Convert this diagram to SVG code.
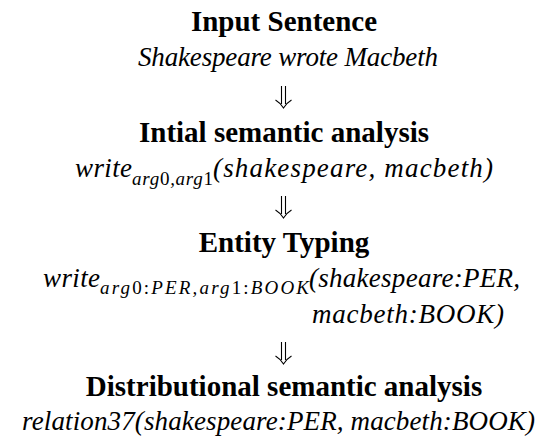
<svg xmlns="http://www.w3.org/2000/svg" width="560" height="436" viewBox="0 0 560 436" font-family="Liberation Serif, serif">
<style>
text{fill:#000}
.t{font-weight:bold;font-size:29px;text-anchor:middle}
.i{font-style:italic;font-size:27px}
.s{font-style:italic;font-size:19px}
.r{font-style:normal}
.arr{fill:none;stroke:#000;stroke-width:1.1}
</style>
<defs>
<path id="dn" d="M-2,0 V18 M2,0 V18 M-8,14 Q-3,17 0,22 Q3,17 8,14"/>
</defs>
<rect width="560" height="436" fill="#fff"/>
<g id="input">
<text class="t" x="284" y="31">Input Sentence</text>
<text class="i" x="138" y="66" textLength="300" lengthAdjust="spacing">Shakespeare wrote Macbeth</text>
</g>
<g id="initial">
<text class="t" x="284" y="142">Intial semantic analysis</text>
<text class="i" x="75" y="177" textLength="57" lengthAdjust="spacing">write</text>
<text class="s" x="132" y="185" textLength="81" lengthAdjust="spacing">arg<tspan class="r">0</tspan>,arg<tspan class="r">1</tspan></text>
<text class="i" x="213" y="177" textLength="280" lengthAdjust="spacing">(shakespeare, macbeth)</text>
</g>
<g id="typing">
<text class="t" x="284" y="252">Entity Typing</text>
<text class="i" x="43" y="287" textLength="57" lengthAdjust="spacing">write</text>
<text class="s" x="100" y="294" textLength="209" lengthAdjust="spacing">arg<tspan class="r">0:</tspan>PER,arg<tspan class="r">1:</tspan>BOOK</text>
<text class="i" x="309" y="287" textLength="211" lengthAdjust="spacing">(shakespeare:PER,</text>
<text class="i" x="312" y="323" textLength="192" lengthAdjust="spacing">macbeth:BOOK)</text>
</g>
<g id="distributional">
<text class="t" x="284" y="396">Distributional semantic analysis</text>
<text class="i" x="22" y="430" textLength="513" lengthAdjust="spacing">relation37(shakespeare:PER, macbeth:BOOK)</text>
</g>
<g id="connectors" class="arr">
<use href="#dn" x="283.5" y="86"/>
<use href="#dn" x="283.5" y="196"/>
<use href="#dn" x="283.5" y="342"/>
</g>
</svg>
